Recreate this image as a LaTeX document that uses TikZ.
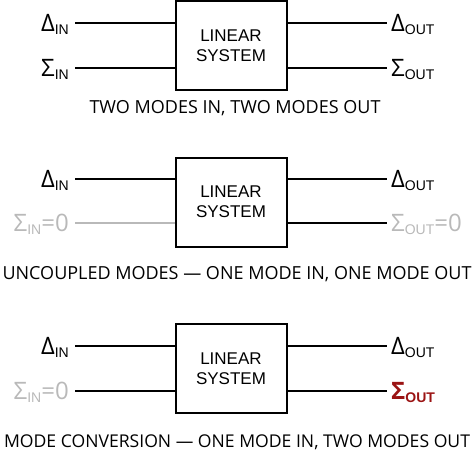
\documentclass[tikz,border=0pt]{standalone}
\usepackage{fontspec}
\setmainfont{Open Sans}
\newfontfamily\arialf{Liberation Sans}
\definecolor{lgray}{RGB}{185,185,185}
\definecolor{dred}{RGB}{155,20,20}
\newcommand{\symb}[1]{{\fontsize{24}{24}\selectfont #1}}
\newcommand{\subt}[1]{\raisebox{-3.5pt}{\fontsize{14}{14}\arialf #1}}
\begin{document}
\begin{tikzpicture}[x=1pt,y=-1pt,
  sysbox/.style={draw,line width=2pt,minimum width=111pt,minimum height=89pt,inner sep=0pt,
    align=center,font=\fontsize{17}{20}\arialf},
  wire/.style={line width=2pt},
  lblL/.style={anchor=base east,inner sep=0pt},
  lblR/.style={anchor=base west,inner sep=0pt},
  capt/.style={font=\fontsize{18}{18}\selectfont,inner sep=0pt}]
\useasboundingbox (0,0) rectangle (474,450);
% ---- panel 1
\node[sysbox] (b1) at (231,45.5) {LINEAR\\SYSTEM};
\coordinate (l1a) at (75,23); \coordinate (l1b) at (75,68);
\coordinate (r1a) at (387,23); \coordinate (r1b) at (387,68);
\draw[wire] (l1a) -- (l1a -| b1.west);
\draw[wire] (l1b) -- (l1b -| b1.west);
\draw[wire] (b1.east |- r1a) -- (r1a);
\draw[wire] (b1.east |- r1b) -- (r1b);
\node[lblL] (t1a) at (69,31) {\symb{Δ}\subt{IN}};
\node[lblL] (t1b) at (69,76) {\symb{Σ}\subt{IN}};
\node[lblR] (u1a) at (391,31) {\symb{Δ}\subt{OUT}};
\node[lblR] (u1b) at (391,76) {\symb{Σ}\subt{OUT}};
\node[capt] (c1) at (235,108) {TWO MODES IN, TWO MODES OUT};
% ---- panel 2
\node[sysbox] (b2) at (231,202) {LINEAR\\SYSTEM};
\coordinate (l2a) at (75,179); \coordinate (l2b) at (75,223);
\coordinate (r2a) at (387,179); \coordinate (r2b) at (387,223);
\draw[wire] (l2a) -- (l2a -| b2.west);
\draw[wire,lgray] (l2b) -- (l2b -| b2.west);
\draw[wire] (b2.east |- r2a) -- (r2a);
\draw[wire] (b2.east |- r2b) -- (r2b);
\node[lblL] (t2a) at (69,187) {\symb{Δ}\subt{IN}};
\node[lblL,lgray] (t2b) at (69,231) {\symb{Σ}\subt{IN}\symb{=0}};
\node[lblR] (u2a) at (391,187) {\symb{Δ}\subt{OUT}};
\node[lblR,lgray] (u2b) at (391,231) {\symb{Σ}\subt{OUT}\symb{=0}};
\node[capt] (c2) at (237,274) {UNCOUPLED MODES — ONE MODE IN, ONE MODE OUT};
% ---- panel 3
\node[sysbox] (b3) at (231,368.5) {LINEAR\\SYSTEM};
\coordinate (l3a) at (75,346); \coordinate (l3b) at (75,391);
\coordinate (r3a) at (387,346); \coordinate (r3b) at (387,391);
\draw[wire] (l3a) -- (l3a -| b3.west);
\draw[wire] (l3b) -- (l3b -| b3.west);
\draw[wire] (b3.east |- r3a) -- (r3a);
\draw[wire] (b3.east |- r3b) -- (r3b);
\node[lblL] (t3a) at (69,354) {\symb{Δ}\subt{IN}};
\node[lblL,lgray] (t3b) at (69,399) {\symb{Σ}\subt{IN}\symb{=0}};
\node[lblR] (u3a) at (391,354) {\symb{Δ}\subt{OUT}};
\node[lblR,dred] (u3b) at (391,399) {\symb{\bfseries Σ}\raisebox{-3.5pt}{\fontsize{14}{14}\arialf\bfseries OUT}};
\node[capt,font=\fontsize{17.6}{17.6}\selectfont] (c3) at (237,442) {MODE CONVERSION — ONE MODE IN, TWO MODES OUT};
\end{tikzpicture}
\end{document}
